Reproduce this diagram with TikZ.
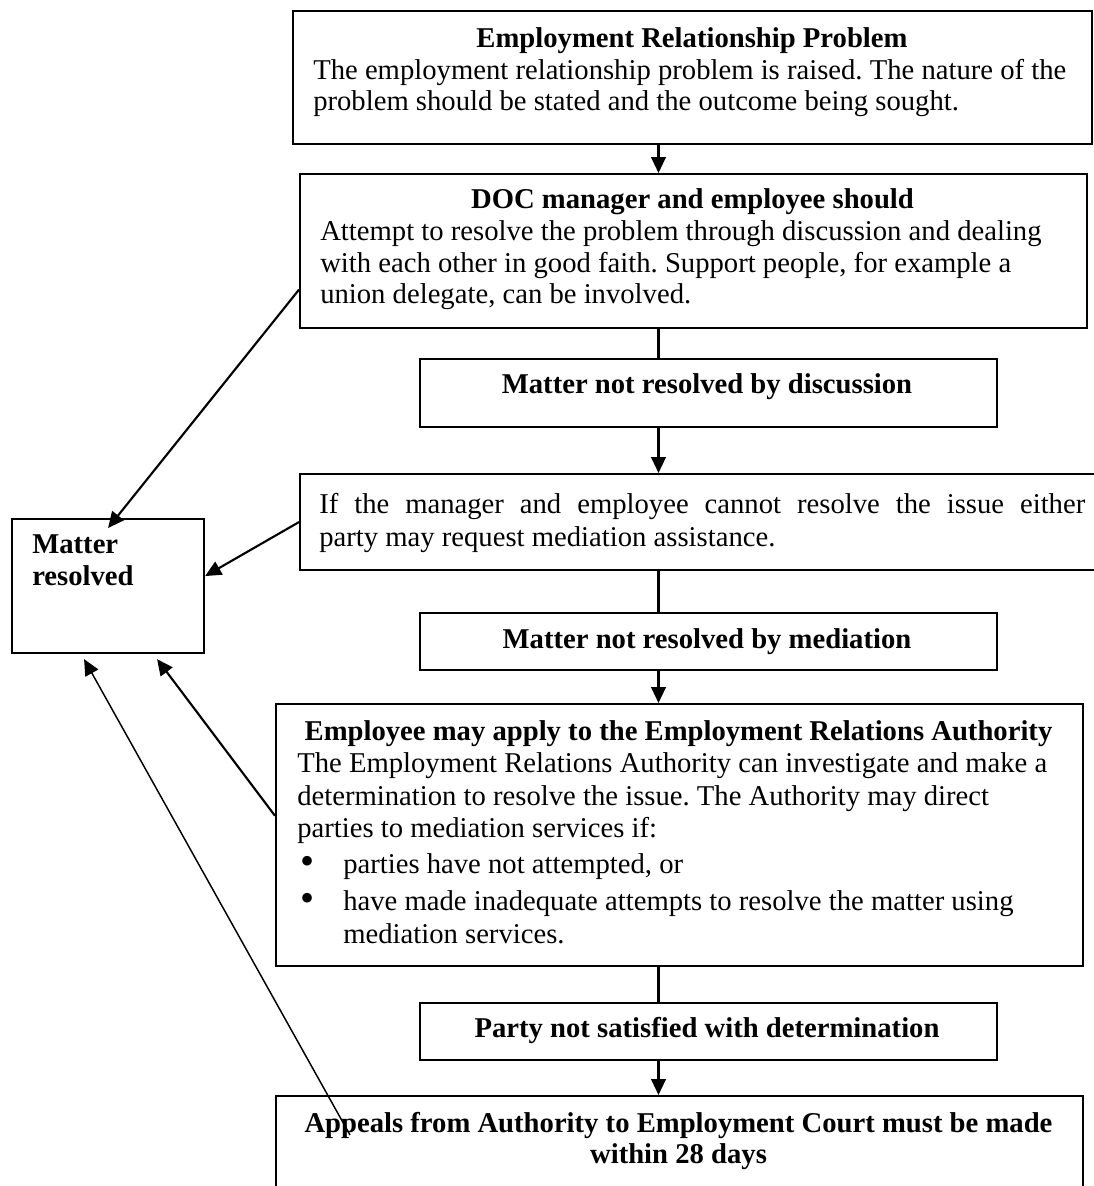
\documentclass[tikz,border=0pt]{standalone}
\usepackage{graphicx}
\usepackage{fontspec}
\setmainfont{Liberation Serif}
\usetikzlibrary{arrows.meta,calc}
\frenchspacing
\newcommand\bulletmark{\makebox[32.25pt][l]{\raisebox{-0.1ex}{\scalebox{1.4}{\textbullet}}}}
\begin{document}
\begin{tikzpicture}[x=0.75pt,y=-0.75pt,
  box/.style={draw, line width=1.6pt, rectangle, inner sep=0pt, anchor=north west},
  txt/.style={inner sep=0pt, anchor=base west, font=\fontsize{21.5}{24}\selectfont},
  ttl/.style={inner sep=0pt, anchor=base, font=\fontsize{21.5}{24}\selectfont\bfseries},
  conn/.style={line width=1.6pt},
  arr/.style={line width=1.6pt, -{Triangle[length=12pt,width=11pt]}},
  thinarr/.style={line width=1.1pt, -{Triangle[length=12pt,width=11pt]}}]
\useasboundingbox[fill=white] (0,0) rectangle (1094,1186);

% boxes
\node[box, minimum width=599.25pt, minimum height=99.75pt] (b1) at (292,10) {};
\node[box, minimum width=590.25pt, minimum height=115.5pt] (b2) at (299,173) {};
\node[box, minimum width=432.75pt, minimum height=51pt] (b3) at (419,358) {};
\node[box, minimum width=600.75pt, minimum height=72pt] (b4) at (299,473) {};
\node[box, minimum width=432.75pt, minimum height=42.75pt] (b5) at (419,612) {};
\node[box, minimum width=605.25pt, minimum height=196.5pt] (b6) at (275,703) {};
\node[box, minimum width=432.75pt, minimum height=42.75pt] (b7) at (419,1002) {};
\node[box, minimum width=605.25pt, minimum height=82.5pt] (b8) at (275,1095) {};
\node[box, minimum width=144pt, minimum height=100.5pt] (r) at (11,518) {};

% texts
\node[ttl] (t1a) at (692,47) {Employment Relationship Problem};
\node[txt] (t1b) at (313,79) {The employment relationship problem is raised. The nature of the};
\node[txt] (t1c) at (313,110) {problem should be stated and the outcome being sought.};

\node[ttl] (t2a) at (692.5,208) {DOC manager and employee should};
\node[txt] (t2b) at (320,240) {Attempt to resolve the problem through discussion and dealing};
\node[txt] (t2c) at (320,272) {with each other in good faith. Support people, for example a};
\node[txt] (t2d) at (320,303) {union delegate, can be involved.};

\node[ttl] (t3) at (707,393) {Matter not resolved by discussion};

\node[txt] (t4a) at (319,513) {\makebox[574.5pt][s]{If the manager and employee cannot resolve the issue either}};
\node[txt] (t4b) at (319,546) {party may request mediation assistance.};

\node[ttl] (t5) at (707,648) {Matter not resolved by mediation};

\node[ttl] (t6a) at (678.5,740) {Employee may apply to the Employment Relations Authority};
\node[txt] (t6b) at (297,772) {The Employment Relations Authority can investigate and make a};
\node[txt] (t6c) at (297,805) {determination to resolve the issue. The Authority may direct};
\node[txt] (t6d) at (297,837) {parties to mediation services if:};
\node[txt] (t6e) at (300,873) {\bulletmark parties have not attempted, or};
\node[txt] (t6f) at (300,910) {\bulletmark have made inadequate attempts to resolve the matter using};
\node[txt] (t6g) at (343,943) {mediation services.};

\node[ttl] (t7) at (707,1037) {Party not satisfied with determination};

\node[ttl] (t8a) at (678.5,1132) {Appeals from Authority to Employment Court must be made};
\node[ttl] (t8b) at (678.5,1163) {within 28 days};

\node[txt, font=\fontsize{21.5}{24}\selectfont\bfseries] (tr1) at (32,553) {Matter};
\node[txt, font=\fontsize{21.5}{24}\selectfont\bfseries] (tr2) at (32,585) {resolved};

% vertical flow
\coordinate (ax) at (658.5,0);
\draw[arr] (b1.south -| ax) -- (b2.north -| ax);
\draw[conn] (b2.south -| ax) -- (b3.north -| ax);
\draw[arr] (b3.south -| ax) -- (b4.north -| ax);
\draw[conn] (b4.south -| ax) -- (b5.north -| ax);
\draw[arr] (b5.south -| ax) -- (b6.north -| ax);
\draw[conn] (b6.south -| ax) -- (b7.north -| ax);
\draw[arr] (b7.south -| ax) -- (b8.north -| ax);

% arrows to "Matter resolved"
\draw[arr] ($(b2.south west)!0.253!(b2.north west)$) -- ([yshift=-7.5pt]r.north);
\draw[arr] (b4.west) -- ([yshift=7.5pt]r.east);
\draw[arr] ($(b6.north west)!0.427!(b6.south west)$) -- ([xshift=36.75pt,yshift=-3.75pt]r.south);
\draw[thinarr] ([xshift=56.25pt,yshift=-30pt]b8.north west) -- ([xshift=-18pt,yshift=-3.75pt]r.south);
\end{tikzpicture}
\end{document}
